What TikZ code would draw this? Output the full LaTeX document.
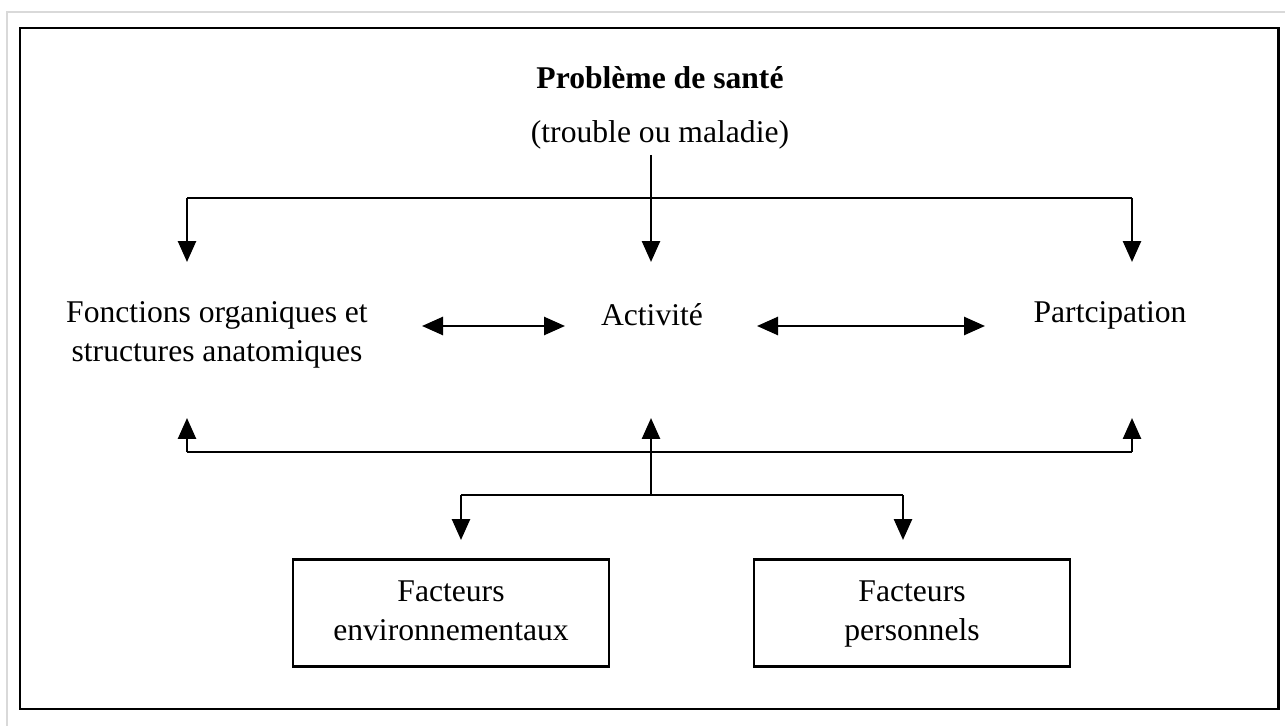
\documentclass[tikz,border=0pt]{standalone}
\usepackage{fontspec}
\setmainfont{Liberation Serif}
\usetikzlibrary{arrows.meta}
\begin{document}
\begin{tikzpicture}[x=0.02cm,y=-0.02cm,
  txt/.style={font=\fontsize{18}{22}\selectfont, align=center, inner sep=0pt},
  fbox/.style={txt, draw, line width=1.5pt, minimum width=316*0.02cm, minimum height=107*0.02cm},
  ln/.style={line width=1.5pt},
  arr/.style={ln, -{Triangle[length=0.42cm,width=0.36cm]}},
  darr/.style={ln, {Triangle[length=0.42cm,width=0.36cm]}-{Triangle[length=0.42cm,width=0.36cm]}}]
\useasboundingbox (0,0) rectangle (1285,726);
\draw[black!15, line width=1pt] (7,726) -- (7,12) -- (1285,12);
\draw[line width=1.7pt] (20,28) rectangle (1278,709);
% texts
\node[txt, font=\fontsize{18}{22}\selectfont\bfseries] (prob) at (660,78) {Problème de santé};
\node[txt] (trouble) at (660,135) {(trouble ou maladie)};
\node[txt] (fonc) at (217,334) {\strut Fonctions organiques et\\\strut structures anatomiques};
\node[txt] (act) at (652,315) {Activité};
\node[txt] (part) at (1110,315) {Partcipation};
\node[fbox] (env) at (451,613) {\strut Facteurs\\\strut environnementaux};
\node[fbox] (pers) at (912,613) {\strut Facteurs\\\strut personnels};
% coordinates
\coordinate (tF) at (187,262);
\coordinate (tA) at (651,262);
\coordinate (tP) at (1132,262);
\coordinate (jT) at (651,198);
\coordinate (sA) at (651,155);
\coordinate (bF) at (187,418);
\coordinate (bA) at (651,418);
\coordinate (bP) at (1132,418);
\coordinate (jB) at (651,452);
\coordinate (jC) at (651,495);
\coordinate (eT) at (461,540);
\coordinate (pT) at (903,540);
\coordinate (dl1) at (422,326);
\coordinate (dl2) at (565,326);
\coordinate (dr1) at (757,326);
\coordinate (dr2) at (985,326);
% top connectors
\draw[arr] (sA) -- (tA);
\draw[ln] (jT -| tF) -- (jT -| tP);
\draw[arr] (jT -| tF) -- (tF);
\draw[arr] (jT -| tP) -- (tP);
% double arrows
\draw[darr] (dl1) -- (dl2);
\draw[darr] (dr1) -- (dr2);
% bottom connectors
\draw[ln] (jB -| bF) -- (jB -| bP);
\draw[arr] (jB -| bF) -- (bF);
\draw[arr] (jB -| bP) -- (bP);
\draw[arr] (jC) -- (bA);
\draw[ln] (jC -| eT) -- (jC -| pT);
\draw[arr] (jC -| eT) -- (eT);
\draw[arr] (jC -| pT) -- (pT);
\end{tikzpicture}
\end{document}
